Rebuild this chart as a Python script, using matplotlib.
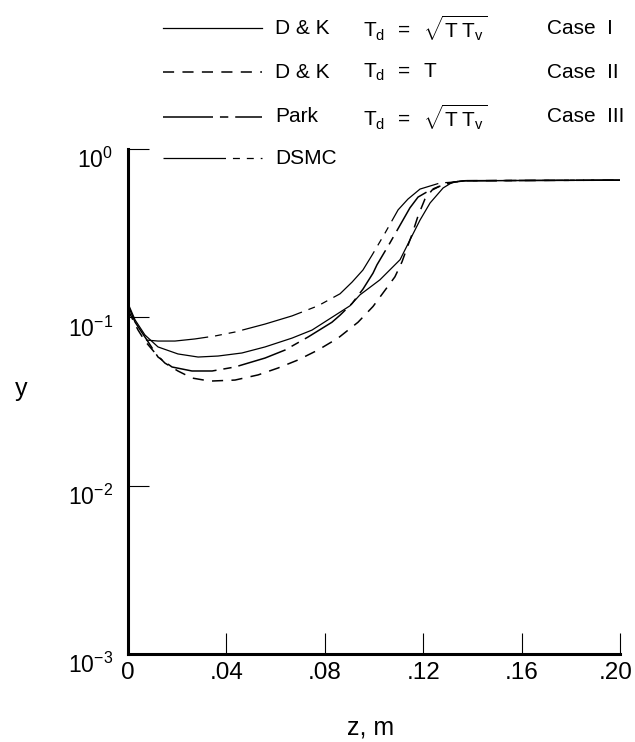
"""Mole fraction y along z: D & K (two Td models), Park and DSMC."""
import matplotlib
matplotlib.use("Agg")
import matplotlib.pyplot as plt
from matplotlib.lines import Line2D
from matplotlib.ticker import NullLocator
from matplotlib.transforms import ScaledTranslation

plt.rcParams["font.family"] = ["Liberation Sans", "DejaVu Sans"]
plt.rcParams["mathtext.fontset"] = "custom"
plt.rcParams["mathtext.rm"] = "Liberation Sans"
plt.rcParams["mathtext.it"] = "Liberation Sans"
plt.rcParams["mathtext.default"] = "regular"
plt.rcParams["lines.scale_dashes"] = False

# ---- data ----
z_case1 = [0.0, 0.0029, 0.0069, 0.0122, 0.0203, 0.0285, 0.0366, 0.0463, 0.0557,
           0.0667, 0.0748, 0.0829, 0.0902, 0.0943, 0.1024, 0.1106, 0.1146, 0.1187,
           0.1228, 0.1281, 0.1321, 0.137, 0.16, 0.20]
y_case1 = [0.121, 0.0964, 0.0785, 0.0667, 0.0606, 0.0581, 0.0589, 0.0614, 0.0667,
           0.0753, 0.0840, 0.100, 0.117, 0.136, 0.167, 0.220, 0.288, 0.378,
           0.478, 0.587, 0.637, 0.648, 0.650, 0.653]

z_case2 = [0.0, 0.0020, 0.0041, 0.0069, 0.0110, 0.0150, 0.0203, 0.0260, 0.0333,
           0.0435, 0.0529, 0.0610, 0.0691, 0.0772, 0.0854, 0.0935, 0.0996, 0.1045,
           0.1085, 0.1114, 0.1134, 0.1155, 0.1179, 0.1207, 0.1236, 0.1276, 0.1329,
           0.137, 0.16, 0.20]
y_case2 = [0.111, 0.0964, 0.0840, 0.0723, 0.0614, 0.0535, 0.0480, 0.0436, 0.0418,
           0.0424, 0.0455, 0.0500, 0.0558, 0.0639, 0.0753, 0.0935, 0.116, 0.145,
           0.174, 0.214, 0.258, 0.312, 0.400, 0.504, 0.570, 0.611, 0.637,
           0.648, 0.650, 0.653]

z_park = [0.0, 0.0029, 0.0077, 0.0122, 0.0179, 0.0260, 0.0342, 0.0435, 0.0557,
          0.0638, 0.0732, 0.0829, 0.0862, 0.0911, 0.0955, 0.0996, 0.1012, 0.1065,
          0.1146, 0.1179, 0.1228, 0.1289, 0.1329, 0.137, 0.16, 0.20]
y_park = [0.118, 0.0935, 0.0733, 0.0581, 0.0507, 0.0480, 0.0480, 0.0507, 0.0573,
          0.0639, 0.0764, 0.0935, 0.103, 0.121, 0.147, 0.183, 0.205, 0.277,
          0.447, 0.518, 0.570, 0.619, 0.637, 0.648, 0.650, 0.653]

z_dsmc = [0.0073, 0.0122, 0.0191, 0.0272, 0.0354, 0.0435, 0.0557, 0.0667, 0.0772,
          0.0862, 0.0911, 0.0955, 0.0992, 0.1045, 0.1098, 0.1138, 0.1187, 0.1268,
          0.1329, 0.137, 0.16, 0.20]
y_dsmc = [0.0733, 0.0723, 0.0723, 0.0744, 0.0775, 0.0818, 0.0912, 0.102, 0.117,
          0.138, 0.162, 0.191, 0.234, 0.317, 0.435, 0.504, 0.578, 0.628,
          0.637, 0.648, 0.650, 0.653]

x_ticks = [0, 0.04, 0.08, 0.12, 0.16, 0.20]
x_ticklabels = ["0", ".04", ".08", ".12", ".16", ".20"]
y_ticks = [1e-3, 1e-2, 1e-1, 1e0]
y_ticklabels = [r"$10^{-3}$", r"$10^{-2}$", r"$10^{-1}$", r"$10^{0}$"]

# line styles (dash patterns in points)
STY_CASE1 = dict(color="black", lw=0.9, linestyle="-")
STY_CASE2 = dict(color="black", lw=1.1, linestyle=(0, (8, 6)))
STY_PARK = dict(color="black", lw=1.1, linestyle=(0, (36, 5, 6, 5)))
STY_DSMC = dict(color="black", lw=0.9, linestyle=(0, (45, 5, 5, 5, 5, 5)))

W, H = 635, 742
fig = plt.figure(figsize=(W / 100, H / 100), dpi=100)
ax = fig.add_axes([128 / W, 1 - 654 / H, (620 - 128) / W, (654 - 149) / H])

ax.plot(z_case1, y_case1, **STY_CASE1)
ax.plot(z_case2, y_case2, **STY_CASE2)
ax.plot(z_park, y_park, **STY_PARK)
ax.plot(z_dsmc, y_dsmc, **STY_DSMC)

ax.set_yscale("log")
ax.set_xlim(0, 0.20)
ax.set_ylim(1e-3, 1)
ax.set_xticks(x_ticks)
ax.set_xticklabels(x_ticklabels)
ax.set_yticks(y_ticks)
ax.set_yticklabels(y_ticklabels)
ax.yaxis.set_minor_locator(NullLocator())
ax.tick_params(direction="in", length=15, width=0.8, color="black")
ax.tick_params(axis="x", pad=6, labelsize=17.5)
ax.tick_params(axis="y", pad=11, labelsize=16.5)
# the exponent labels sit a little below their ticks in the original
shift = ScaledTranslation(0, -0.09, fig.dpi_scale_trans)
for lab in ax.get_yticklabels():
    lab.set_transform(lab.get_transform() + shift)
# keep the last x label inside the canvas
last = ax.get_xticklabels()[-1]
last.set_transform(last.get_transform() + ScaledTranslation(-0.04, 0, fig.dpi_scale_trans))
for s in ("top", "right"):
    ax.spines[s].set_visible(False)
for s in ("left", "bottom"):
    ax.spines[s].set_linewidth(2.2)

fig.text(371 / W, 1 - 727 / H, "z, m", fontsize=18, ha="center", va="center")
fig.text(21 / W, 1 - 389 / H, "y", fontsize=18, ha="center", va="center")

# ---- legend drawn by hand above the axes ----
rows = [28, 72, 117, 158]
styles = [STY_CASE1, STY_CASE2, STY_PARK, STY_DSMC]
names = ["D & K", "D & K", "Park", "DSMC"]
models = [r"$T_d\;\;=\;\;\sqrt{T\;T_v}$", r"$T_d\;\;=\;\;T$",
          r"$T_d\;\;=\;\;\sqrt{T\;T_v}$", None]
cases = ["Case  I", "Case  II", "Case  III", None]
for py, sty, nm, md, cs in zip(rows, styles, names, models, cases):
    fy = 1 - py / H
    fig.add_artist(Line2D([163 / W, 262 / W], [fy, fy], transform=fig.transFigure, **sty))
    fig.text(275 / W, fy, nm, fontsize=15, ha="left", va="center")
    if md:
        fig.text(363 / W, fy, md, fontsize=15, ha="left", va="center")
    if cs:
        fig.text(547 / W, fy, cs, fontsize=15, ha="left", va="center")

fig.savefig("out.png", dpi=100)
